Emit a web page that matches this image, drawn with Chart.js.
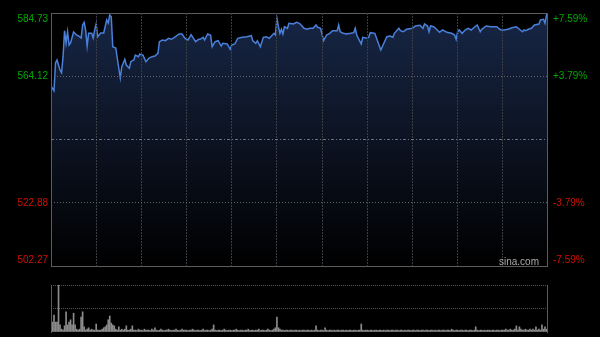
<!DOCTYPE html>
<html lang="zh-CN">
<head>
<meta charset="UTF-8">
<title>分时图</title>
<script src="https://cdn.jsdelivr.net/npm/chart.js"></script>
<style>
  body {
    margin: 0;
    background: #000;
  }
  .wrap {
    position: relative;
    width: 600px;
    height: 337px;
    background: #000;
  }
  .wrap canvas {
    position: absolute;
    left: 0;
    top: 0;
  }
  #brand {
    position: absolute;
    left: 499px;
    top: 256px;
    font: 10px 'Liberation Sans', Arial, sans-serif;
    line-height: 12px;
    color: #aaa;
  }
</style>
</head>
<body>

<div class="wrap">
  <canvas id="price" width="600" height="337"></canvas>
  <canvas id="vol" width="600" height="337"></canvas>
  <div id="brand">sina.com</div>
</div>

<script>
// previous close and axis ticks
const prevClose = 543.50;
const priceTicks = [502.27, 522.88, 543.50, 564.12, 584.73];
const priceLabels = ['502.27', '522.88', '', '564.12', '584.73'];
const pctLabels = ['-7.59%', '-3.79%', '', '+3.79%', '+7.59%'];
const timeTicks = [0, 30, 60, 90, 120, 150, 180, 210, 240, 270, 300, 330];

// minutes from the open, and price at that minute
const minutes = [
  0, 2, 3, 4, 6, 7, 8, 9, 10, 11,
  12, 13, 15, 17, 19, 20, 21, 22, 23, 24,
  25, 27, 28, 29, 30, 31, 33, 35, 37, 38,
  39, 40, 41, 43, 44, 45, 46, 47, 49, 50,
  52, 53, 55, 56, 58, 59, 60, 61, 63, 65,
  67, 69, 71, 72, 74, 76, 78, 80, 82, 85,
  87, 89, 91, 93, 96, 98, 99, 101, 102, 104,
  106, 107, 109, 111, 113, 114, 117, 119, 120, 122,
  124, 127, 130, 133, 134, 136, 137, 139, 141, 143,
  145, 148, 149, 150, 151, 152, 153, 154, 155, 157,
  158, 161, 163, 165, 168, 170, 172, 174, 176, 177,
  179, 181, 183, 185, 187, 190, 191, 192, 194, 196,
  199, 201, 202, 203, 206, 207, 210, 211, 212, 215,
  217, 219, 221, 223, 225, 227, 228, 231, 232, 234,
  236, 240, 242, 245, 247, 248, 250, 251, 252, 254,
  256, 258, 260, 263, 266, 268, 269, 270, 271, 273,
  275, 277, 279, 282, 283, 285, 286, 289, 292, 296,
  298, 299, 301, 304, 306, 309, 311, 313, 314, 315,
  317, 319, 321, 324, 325, 327, 328, 329, 330
];
const prices = [
  560.94, 559.41, 568.43, 569.41, 566.15, 565.27, 570.49, 578.96, 574.95, 578.63,
  574.30, 574.95, 578.54, 577.56, 577.00, 576.58, 580.82, 581.70, 579.19, 573.97,
  578.11, 578.11, 576.58, 579.19, 581.15, 577.00, 578.21, 578.21, 582.45, 581.47,
  584.08, 583.52, 573.75, 573.32, 570.06, 566.80, 563.54, 567.23, 569.64, 567.78,
  566.71, 568.86, 569.41, 571.04, 570.49, 571.37, 571.04, 571.04, 568.86, 569.96,
  570.49, 570.72, 571.60, 575.38, 575.93, 575.70, 576.48, 576.16, 576.81, 577.89,
  577.89, 576.48, 575.93, 577.66, 575.38, 576.16, 576.16, 576.81, 575.93, 577.89,
  577.46, 573.75, 575.38, 575.70, 573.97, 574.85, 574.63, 572.90, 574.30, 574.63,
  576.48, 576.81, 577.00, 577.33, 575.70, 574.85, 575.70, 573.75, 576.81, 577.00,
  576.48, 578.11, 577.56, 583.00, 580.26, 578.11, 579.42, 577.89, 580.26, 579.74,
  581.37, 581.15, 581.70, 581.37, 579.74, 579.42, 579.74, 579.74, 580.82, 580.07,
  579.74, 575.70, 577.56, 578.11, 578.96, 578.96, 580.82, 578.63, 578.11, 577.89,
  578.11, 578.31, 579.74, 577.56, 574.63, 576.81, 576.48, 576.81, 578.31, 578.11,
  575.38, 572.67, 574.85, 577.00, 577.23, 576.81, 578.11, 579.74, 578.96, 578.63,
  579.42, 579.74, 580.49, 580.72, 579.74, 581.15, 580.49, 578.63, 580.49, 580.26,
  579.42, 578.44, 579.19, 578.44, 578.11, 577.56, 576.16, 578.63, 579.19, 578.11,
  579.19, 579.74, 579.19, 580.49, 580.82, 578.63, 579.42, 580.49, 580.26, 580.26,
  579.42, 579.19, 579.19, 579.52, 579.94, 580.26, 579.42, 578.63, 579.19, 578.96,
  579.42, 579.74, 580.82, 581.15, 582.45, 582.68, 581.37, 584.08, 584.73
];

// volume per minute (relative units, 100 = top of the panel)
const volumes = [
  21, 21, 36, 21, 21, 100, 15, 6, 4, 13, 43, 15, 21, 26, 15, 40, 15, 6, 4, 6, 32, 43, 11, 4, 6, 9, 4, 6, 4, 4,
  17, 4, 4, 4, 6, 9, 11, 15, 26, 34, 19, 15, 13, 6, 4, 11, 4, 6, 4, 6, 13, 4, 4, 6, 13, 4, 4, 3, 6, 4,
  4, 3, 6, 4, 4, 4, 3, 6, 4, 9, 4, 3, 4, 6, 4, 3, 4, 4, 6, 4, 3, 4, 4, 6, 4, 3, 4, 6, 4, 4,
  4, 3, 4, 4, 6, 4, 3, 4, 4, 3, 4, 6, 3, 4, 4, 3, 4, 6, 15, 4, 3, 4, 4, 3, 4, 6, 4, 3, 4, 4,
  3, 4, 4, 6, 4, 3, 4, 4, 3, 4, 4, 6, 3, 4, 4, 3, 4, 4, 6, 3, 4, 4, 3, 4, 6, 4, 3, 4, 6, 9,
  32, 9, 6, 4, 4, 3, 4, 4, 3, 4, 4, 3, 4, 4, 3, 4, 3, 4, 4, 3, 4, 4, 3, 4, 3, 4, 13, 4, 3, 4,
  4, 3, 9, 4, 3, 4, 4, 3, 4, 3, 4, 4, 3, 4, 4, 3, 4, 3, 4, 4, 3, 4, 4, 3, 4, 4, 17, 4, 3, 4,
  4, 3, 4, 4, 3, 4, 4, 3, 4, 4, 3, 4, 3, 4, 4, 3, 4, 4, 3, 4, 4, 3, 4, 4, 3, 4, 3, 4, 4, 3,
  4, 4, 3, 4, 4, 3, 4, 4, 3, 4, 4, 3, 4, 4, 3, 4, 3, 4, 4, 3, 4, 4, 3, 4, 4, 3, 6, 4, 3, 4,
  4, 3, 4, 4, 3, 4, 4, 3, 4, 4, 3, 4, 11, 4, 3, 4, 4, 3, 4, 3, 4, 4, 3, 4, 4, 3, 4, 4, 3, 4,
  4, 4, 6, 4, 4, 6, 4, 4, 6, 13, 4, 11, 6, 4, 4, 6, 4, 4, 6, 4, 6, 4, 11, 4, 6, 4, 15, 6, 11, 6, 11
];

const UP = '#00a800';
const DOWN = '#d01000';
const FONT = { family: "'Liberation Sans', Arial, sans-serif", size: 10 };

// frame round the plot area
const framePlugin = {
  id: 'frame',
  afterDatasetsDraw(chart, args, opts) {
    const { ctx, chartArea: a } = chart;
    ctx.save();
    ctx.strokeStyle = opts.color;
    ctx.lineWidth = 1;
    ctx.beginPath();
    if (opts.top) { ctx.moveTo(a.left, a.top + 0.5); ctx.lineTo(a.right, a.top + 0.5); }
    if (opts.bottom) { ctx.moveTo(a.left, a.bottom + 0.5); ctx.lineTo(a.right, a.bottom + 0.5); }
    ctx.moveTo(a.left + 0.5, a.top); ctx.lineTo(a.left + 0.5, a.bottom + 1);
    ctx.moveTo(a.right - 0.5, a.top); ctx.lineTo(a.right - 0.5, a.bottom + 1);
    ctx.stroke();
    ctx.restore();
  }
};

function edgeLabel(label, index, count) {
  if (index === count - 1) return ['', label];
  if (index === 0) return [label, ''];
  return label;
}

// labels may hang over the plot edge, so the axis asks for no extra room
function noPadding(s, width) {
  s.width = width;
  s.paddingTop = 0;
  s.paddingBottom = 0;
}

new Chart(document.getElementById('price'), {
  type: 'line',
  data: {
    datasets: [{
      data: minutes.map((m, i) => ({ x: m, y: prices[i] })),
      borderColor: '#4a80da',
      borderWidth: 1.5,
      pointRadius: 0,
      tension: 0,
      fill: 'start',
      backgroundColor: (c) => {
        const area = c.chart.chartArea;
        if (!area) return 'rgba(0,0,0,0)';
        const g = c.chart.ctx.createLinearGradient(0, area.top, 0, area.bottom);
        g.addColorStop(0, '#172646');
        g.addColorStop(0.5, '#0c1322');
        g.addColorStop(1, '#000000');
        return g;
      }
    }]
  },
  options: {
    responsive: false,
    animation: false,
    layout: { padding: { top: 13, bottom: 71, left: 0, right: 0 } },
    plugins: {
      legend: { display: false },
      tooltip: { enabled: false },
      frame: { color: '#5c5c5c', top: true, bottom: true }
    },
    scales: {
      x: {
        type: 'linear',
        min: 0,
        max: 330,
        afterBuildTicks: (s) => { s.ticks = timeTicks.map(v => ({ value: v })); },
        afterFit: (s) => { s.height = 0; },
        ticks: { display: false },
        grid: {
          z: 1,
          drawTicks: false,
          color: (c) => (c.tick && (c.tick.value === 0 || c.tick.value === 330)) ? 'rgba(0,0,0,0)' : '#3a3d42'
        },
        border: { display: false, dash: [2, 1] }
      },
      y: {
        position: 'left',
        min: priceTicks[0],
        max: priceTicks[priceTicks.length - 1],
        afterBuildTicks: (s) => { s.ticks = priceTicks.map(v => ({ value: v })); },
        afterFit: (s) => noPadding(s, 51),
        ticks: {
          padding: 3,
          font: FONT,
          autoSkip: false,
          color: (c) => c.tick.value > prevClose ? UP : DOWN,
          callback: (v, i) => edgeLabel(priceLabels[i], i, priceLabels.length)
        },
        grid: {
          z: 1,
          drawTicks: false,
          color: (c) => {
            const v = c.tick && c.tick.value;
            if (v === priceTicks[0] || v === priceTicks[priceTicks.length - 1]) return 'rgba(0,0,0,0)';
            return v === prevClose ? '#6a7282' : '#5f656e';
          }
        },
        border: {
          display: false,
          dash: (c) => (c.tick && c.tick.value === prevClose) ? [3, 2, 1, 2] : [1, 2]
        }
      },
      y2: {
        position: 'right',
        min: priceTicks[0],
        max: priceTicks[priceTicks.length - 1],
        afterBuildTicks: (s) => { s.ticks = priceTicks.map(v => ({ value: v })); },
        afterFit: (s) => noPadding(s, 52),
        ticks: {
          padding: 5,
          font: FONT,
          autoSkip: false,
          color: (c) => c.tick.value > prevClose ? UP : DOWN,
          callback: (v, i) => edgeLabel(pctLabels[i], i, pctLabels.length)
        },
        grid: { display: false, drawTicks: false },
        border: { display: false }
      }
    }
  },
  plugins: [framePlugin]
});

new Chart(document.getElementById('vol'), {
  type: 'bar',
  data: {
    datasets: [{
      data: volumes.map((v, i) => ({ x: i, y: v })),
      backgroundColor: '#8c8c8c',
      barThickness: 1
    }]
  },
  options: {
    responsive: false,
    animation: false,
    layout: { padding: { top: 285, bottom: 5, left: 0, right: 0 } },
    plugins: {
      legend: { display: false },
      tooltip: { enabled: false },
      frame: { color: '#5c5c5c', top: false, bottom: false }
    },
    scales: {
      x: {
        type: 'linear',
        min: 0,
        max: 330,
        offset: false,
        afterFit: (s) => { s.height = 0; },
        ticks: { display: false },
        grid: { display: false, drawTicks: false },
        border: { display: false }
      },
      y: {
        position: 'left',
        min: 0,
        max: 100,
        afterBuildTicks: (s) => { s.ticks = [{ value: 0 }, { value: 50 }, { value: 100 }]; },
        afterFit: (s) => { s.width = 51; },
        ticks: { display: false },
        grid: {
          drawTicks: false,
          color: (c) => (c.tick && c.tick.value === 0) ? 'rgba(0,0,0,0)' : '#555'
        },
        border: { display: false, dash: [1, 1] }
      },
      y2: {
        position: 'right',
        afterFit: (s) => { s.width = 52; },
        ticks: { display: false },
        grid: { display: false, drawTicks: false },
        border: { display: false }
      }
    }
  },
  plugins: [framePlugin]
});
</script>

</body>
</html>
